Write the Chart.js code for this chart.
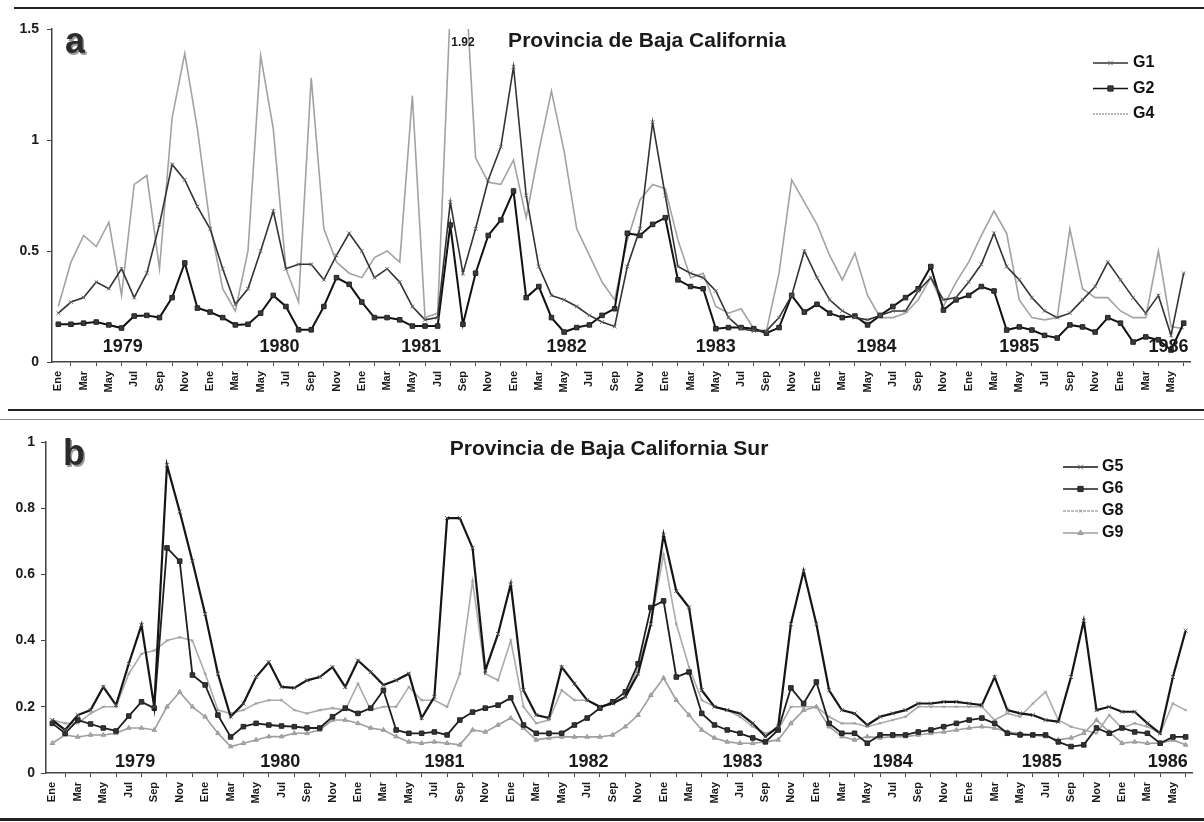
<!DOCTYPE html>
<html>
<head>
<meta charset="utf-8">
<title>Provincia de Baja California</title>
<script src="https://cdn.jsdelivr.net/npm/chart.js@4.4.1/dist/chart.umd.min.js"></script>
<style>
  body { margin: 0; background: #fff; }
  #page { position: relative; width: 1204px; height: 822px; overflow: hidden; background: #fff; }
  #page canvas { position: absolute; left: 0; }
  #chartA { top: 0; }
  #chartB { top: 420px; }
  .rule { position: absolute; right: 0; background: #222; }
</style>
</head>
<body>
<div id="page">
  <div class="rule" style="top:7px;left:14px;height:2px"></div>
  <div class="rule" style="top:409px;left:8px;height:2px"></div>
  <div class="rule" style="top:419px;left:0;height:1px;background:#888"></div>
  <div class="rule" style="top:818px;left:0;height:3px"></div>
  <canvas id="chartA" width="1204" height="408"></canvas>
  <canvas id="chartB" width="1204" height="398"></canvas>
</div>
<script>
// Month categories, Jan 1979 - Jun 1986
const monthNames = ['Ene', 'Feb', 'Mar', 'Abr', 'May', 'Jun', 'Jul', 'Ago', 'Sep', 'Oct', 'Nov', 'Dic'];
const yearLabels = ['1979', '1980', '1981', '1982', '1983', '1984', '1985', '1986'];
const months = [];
for (let y = 1979; y <= 1986; y++) {
  for (let m = 0; m < 12; m++) {
    if (y === 1986 && m > 5) break;
    months.push(monthNames[m] + ' ' + y);
  }
}

// Provincia de Baja California
const g1 = [
  0.22, 0.27, 0.29, 0.36, 0.33, 0.42, 0.29, 0.40, 0.62, 0.89,
  0.82, 0.70, 0.60, 0.42, 0.26, 0.33, 0.50, 0.68, 0.42, 0.44,
  0.44, 0.37, 0.48, 0.58, 0.50, 0.38, 0.42, 0.36, 0.25, 0.19,
  0.20, 0.72, 0.40, 0.60, 0.82, 0.97, 1.33, 0.75, 0.43, 0.30,
  0.28, 0.25, 0.21, 0.18, 0.16, 0.43, 0.60, 1.08, 0.75, 0.43,
  0.40, 0.38, 0.32, 0.20, 0.15, 0.14, 0.14, 0.20, 0.30, 0.50,
  0.38, 0.28, 0.23, 0.20, 0.19, 0.21, 0.23, 0.23, 0.32, 0.38,
  0.28, 0.29, 0.36, 0.44, 0.58, 0.43, 0.37, 0.29, 0.23, 0.20,
  0.22, 0.28, 0.34, 0.45, 0.37, 0.29, 0.22, 0.30, 0.12, 0.40
];
const g2 = [
  0.17, 0.17, 0.175, 0.18, 0.167, 0.153, 0.207, 0.21, 0.20, 0.29,
  0.446, 0.243, 0.225, 0.20, 0.167, 0.17, 0.22, 0.30, 0.25, 0.145,
  0.145, 0.25, 0.38, 0.35, 0.27, 0.20, 0.20, 0.19, 0.162, 0.162,
  0.162, 0.617, 0.17, 0.40, 0.57, 0.64, 0.77, 0.29, 0.34, 0.20,
  0.135, 0.155, 0.167, 0.21, 0.24, 0.58, 0.57, 0.62, 0.65, 0.37,
  0.34, 0.33, 0.15, 0.155, 0.155, 0.15, 0.13, 0.155, 0.30, 0.225,
  0.26, 0.22, 0.20, 0.207, 0.167, 0.21, 0.25, 0.29, 0.33, 0.43,
  0.234, 0.28, 0.30, 0.34, 0.32, 0.144, 0.158, 0.144, 0.12, 0.108,
  0.167, 0.158, 0.135, 0.20, 0.175, 0.09, 0.113, 0.10, 0.054, 0.175
];
const g4 = [
  0.25, 0.45, 0.57, 0.52, 0.63, 0.30, 0.80, 0.84, 0.42, 1.10,
  1.39, 1.05, 0.62, 0.33, 0.23, 0.50, 1.38, 1.05, 0.42, 0.27,
  1.28, 0.60, 0.45, 0.40, 0.38, 0.47, 0.50, 0.45, 1.20, 0.20,
  0.22, 1.60, 1.92, 0.92, 0.81, 0.80, 0.91, 0.65, 0.95, 1.22,
  0.95, 0.60, 0.48, 0.36, 0.28, 0.55, 0.73, 0.80, 0.78, 0.55,
  0.38, 0.40, 0.25, 0.22, 0.24, 0.15, 0.14, 0.40, 0.82, 0.72,
  0.62, 0.48, 0.37, 0.49, 0.30, 0.20, 0.20, 0.22, 0.28, 0.38,
  0.25, 0.36, 0.45, 0.57, 0.68, 0.58, 0.28, 0.20, 0.19, 0.20,
  0.60, 0.33, 0.29, 0.29, 0.23, 0.20, 0.20, 0.50, 0.16, 0.15
];

// Provincia de Baja California Sur
const g5 = [
  0.16, 0.13, 0.175, 0.19, 0.26, 0.205, 0.33, 0.447, 0.20, 0.93,
  0.79, 0.64, 0.48, 0.30, 0.17, 0.21, 0.29, 0.335, 0.26, 0.257,
  0.28, 0.29, 0.32, 0.26, 0.34, 0.305, 0.266, 0.28, 0.30, 0.166,
  0.23, 0.77, 0.77, 0.68, 0.31, 0.42, 0.57, 0.25, 0.175, 0.166,
  0.32, 0.27, 0.22, 0.20, 0.21, 0.23, 0.30, 0.45, 0.72, 0.55,
  0.50, 0.25, 0.20, 0.19, 0.18, 0.15, 0.11, 0.14, 0.45, 0.61,
  0.45, 0.25, 0.19, 0.18, 0.145, 0.17, 0.18, 0.19, 0.21, 0.21,
  0.215, 0.215, 0.21, 0.205, 0.29, 0.19, 0.18, 0.175, 0.16, 0.155,
  0.29, 0.46, 0.19, 0.20, 0.185, 0.185, 0.15, 0.12, 0.29, 0.43
];
const g6 = [
  0.15, 0.12, 0.16, 0.148, 0.136, 0.127, 0.172, 0.215, 0.196, 0.68,
  0.64, 0.296, 0.266, 0.175, 0.109, 0.14, 0.15, 0.145, 0.142, 0.14,
  0.136, 0.136, 0.17, 0.196, 0.18, 0.196, 0.25, 0.13, 0.12, 0.12,
  0.124, 0.115, 0.16, 0.184, 0.196, 0.205, 0.227, 0.145, 0.12, 0.12,
  0.12, 0.145, 0.166, 0.196, 0.215, 0.245, 0.33, 0.50, 0.52, 0.29,
  0.305, 0.18, 0.145, 0.13, 0.12, 0.106, 0.094, 0.13, 0.257, 0.21,
  0.275, 0.15, 0.12, 0.12, 0.09, 0.115, 0.115, 0.115, 0.124, 0.13,
  0.14, 0.15, 0.16, 0.166, 0.15, 0.12, 0.115, 0.115, 0.115, 0.094,
  0.08, 0.085, 0.136, 0.12, 0.136, 0.124, 0.12, 0.09, 0.109, 0.109
];
const g8 = [
  0.16, 0.15, 0.15, 0.18, 0.20, 0.20, 0.30, 0.36, 0.37, 0.40,
  0.41, 0.40, 0.30, 0.19, 0.18, 0.19, 0.21, 0.22, 0.22, 0.19,
  0.18, 0.19, 0.196, 0.19, 0.27, 0.19, 0.20, 0.20, 0.26, 0.22,
  0.22, 0.20, 0.30, 0.58, 0.30, 0.28, 0.40, 0.20, 0.15, 0.16,
  0.25, 0.22, 0.22, 0.20, 0.21, 0.23, 0.32, 0.45, 0.66, 0.45,
  0.32, 0.22, 0.20, 0.19, 0.17, 0.14, 0.12, 0.13, 0.20, 0.20,
  0.20, 0.17, 0.15, 0.15, 0.14, 0.15, 0.16, 0.17, 0.20, 0.20,
  0.20, 0.20, 0.20, 0.20, 0.16, 0.18, 0.17, 0.21, 0.245, 0.16,
  0.14, 0.13, 0.12, 0.175, 0.136, 0.15, 0.14, 0.12, 0.21, 0.19
];
const g9 = [
  0.09, 0.115, 0.109, 0.115, 0.115, 0.12, 0.136, 0.136, 0.13, 0.20,
  0.245, 0.20, 0.17, 0.12, 0.08, 0.09, 0.10, 0.11, 0.11, 0.12,
  0.12, 0.13, 0.16, 0.16, 0.15, 0.136, 0.13, 0.11, 0.094, 0.09,
  0.094, 0.09, 0.085, 0.13, 0.124, 0.145, 0.166, 0.136, 0.10, 0.106,
  0.109, 0.109, 0.109, 0.109, 0.115, 0.14, 0.175, 0.235, 0.287, 0.22,
  0.175, 0.13, 0.106, 0.094, 0.09, 0.09, 0.094, 0.10, 0.15, 0.19,
  0.20, 0.14, 0.11, 0.10, 0.11, 0.106, 0.11, 0.11, 0.115, 0.12,
  0.124, 0.13, 0.136, 0.14, 0.136, 0.124, 0.12, 0.115, 0.11, 0.10,
  0.106, 0.12, 0.16, 0.124, 0.09, 0.094, 0.09, 0.09, 0.10, 0.085
];

const FONT = "'Liberation Sans', Arial, sans-serif";
Chart.defaults.font.family = FONT;

// Draws panel letter, title, year captions, legend and the clipped peak value
const panelText = {
  id: 'panelText',
  afterDraw(chart, args, opts) {
    const ctx = chart.ctx;
    const xs = chart.scales.x;
    const ys = chart.scales.y;
    ctx.save();

    ctx.textAlign = 'left';
    ctx.textBaseline = 'alphabetic';
    ctx.font = 'bold 36px ' + FONT;
    ctx.fillStyle = '#9a9a9a';
    ctx.fillText(opts.letter, opts.letterPos[0] + 1.5, opts.letterPos[1] + 1.5);
    ctx.fillStyle = '#2b2b2b';
    ctx.fillText(opts.letter, opts.letterPos[0], opts.letterPos[1]);

    ctx.textAlign = 'center';
    ctx.font = 'bold 21px ' + FONT;
    ctx.fillStyle = '#1a1a1a';
    ctx.fillText(opts.title, opts.titlePos[0], opts.titlePos[1]);

    ctx.textBaseline = 'middle';
    ctx.font = 'bold 18px ' + FONT;
    yearLabels.forEach((yr, k) => {
      ctx.fillText(yr, xs.getPixelForValue(opts.yearAt[k]), ys.getPixelForValue(opts.yearValue));
    });

    if (opts.peakOf !== undefined) {
      const data = chart.data.datasets[opts.peakOf].data;
      const top = Math.max(...data);
      ctx.font = 'bold 12px ' + FONT;
      ctx.textBaseline = 'alphabetic';
      ctx.fillText(top.toFixed(2), xs.getPixelForValue(data.indexOf(top)), opts.peakY);
    }

    const lg = opts.legend;
    chart.data.datasets.forEach((ds, k) => {
      const y = lg.y + k * lg.dy;
      ctx.setLineDash(ds.legendDash || []);
      ctx.strokeStyle = ds.borderColor;
      ctx.lineWidth = Math.min(ds.borderWidth, 1.6);
      ctx.beginPath();
      ctx.moveTo(lg.x1, y);
      ctx.lineTo(lg.x2, y);
      ctx.stroke();
      ctx.setLineDash([]);
      if (ds.pointRadius > 0) {
        ctx.fillStyle = ds.pointBackgroundColor || ds.borderColor;
        ctx.strokeStyle = ds.pointBorderColor || ds.borderColor;
        ctx.lineWidth = ds.pointBorderWidth || 1;
        Chart.helpers.drawPoint(ctx, {
          pointStyle: ds.pointStyle, radius: ds.pointRadius + 0.5,
          borderWidth: ds.pointBorderWidth || 1, rotation: 0
        }, (lg.x1 + lg.x2) / 2, y);
      }
      ctx.font = 'bold 16px ' + FONT;
      ctx.fillStyle = '#111';
      ctx.textAlign = 'left';
      ctx.textBaseline = 'middle';
      ctx.fillText(ds.label, lg.textX, y);
    });

    ctx.restore();
  }
};

function buildChart(id, datasets, yMax, yStep, box, text) {
  return new Chart(document.getElementById(id), {
    type: 'line',
    data: { labels: months, datasets: datasets },
    options: {
      responsive: false,
      animation: false,
      devicePixelRatio: 1,
      layout: { padding: { top: box.top, right: box.right, left: 0, bottom: 0 } },
      elements: { line: { tension: 0, fill: false } },
      scales: {
        x: {
          offset: true,
          grid: { offset: true, drawOnChartArea: false, tickLength: 4, color: '#444' },
          border: { color: '#444', width: 1.5 },
          ticks: {
            autoSkip: false, minRotation: 90, maxRotation: 90, padding: 5,
            color: '#1a1a1a', font: { size: 11, weight: 'bold' },
            callback: function (v, i) {
              return i % 2 === 0 ? this.getLabelForValue(v).split(' ')[0] : null;
            }
          },
          afterFit: s => { s.height = box.xHeight; }
        },
        y: {
          min: 0,
          max: yMax,
          ticks: {
            stepSize: yStep, padding: box.yPad, color: '#1a1a1a',
            font: { size: 14, weight: 'bold' },
            callback: v => String(Math.round(v * 100) / 100)
          },
          grid: { drawOnChartArea: false, tickLength: 5, color: '#444' },
          border: { color: '#444', width: 1.5 },
          afterFit: s => { s.width = box.yWidth; }
        }
      },
      plugins: {
        legend: { display: false },
        tooltip: { enabled: false },
        panelText: text
      }
    },
    plugins: [panelText]
  });
}

// Panel a
buildChart('chartA', [
  { label: 'G1', data: g1, borderColor: '#333', borderWidth: 1.6,
    pointStyle: 'crossRot', pointRadius: 2.6, pointBorderColor: '#666', pointBorderWidth: 1 },
  { label: 'G2', data: g2, borderColor: '#111', borderWidth: 2,
    pointStyle: 'rect', pointRadius: 3.2, pointBackgroundColor: '#3a3a3a', pointBorderColor: '#222', pointBorderWidth: 1 },
  { label: 'G4', data: g4, borderColor: '#a2a2a2', borderWidth: 1.6, pointRadius: 0, legendDash: [2, 1] }
], 1.5, 0.5,
  { top: 29, right: 14, xHeight: 46, yWidth: 52, yPad: 8 },
  {
    letter: 'a', letterPos: [65, 53],
    title: 'Provincia de Baja California', titlePos: [647, 47],
    yearAt: [5.1, 17.5, 28.7, 40.2, 52, 64.7, 76, 87.8], yearValue: 0.068,
    peakOf: 2, peakY: 46,
    legend: { x1: 1093, x2: 1128, textX: 1133, y: 63, dy: 25.5 }
  });

// Panel b
buildChart('chartB', [
  { label: 'G5', data: g5, borderColor: '#151515', borderWidth: 2.2,
    pointStyle: 'crossRot', pointRadius: 2.8, pointBorderColor: '#555', pointBorderWidth: 1 },
  { label: 'G6', data: g6, borderColor: '#1e1e1e', borderWidth: 1.8,
    pointStyle: 'rect', pointRadius: 3.2, pointBackgroundColor: '#333', pointBorderColor: '#222', pointBorderWidth: 1 },
  { label: 'G8', data: g8, borderColor: '#ababab', borderWidth: 1.6,
    pointStyle: 'crossRot', pointRadius: 1.8, pointBorderColor: '#999', pointBorderWidth: 1, legendDash: [3, 1] },
  { label: 'G9', data: g9, borderColor: '#9e9e9e', borderWidth: 1.6,
    pointStyle: 'triangle', pointRadius: 2.6, pointBackgroundColor: '#aaa', pointBorderColor: '#999', pointBorderWidth: 1 }
], 1, 0.2,
  { top: 22, right: 12, xHeight: 45, yWidth: 46, yPad: 6 },
  {
    letter: 'b', letterPos: [63, 45],
    title: 'Provincia de Baja California Sur', titlePos: [609, 35],
    yearAt: [6.5, 17.9, 30.8, 42.1, 54.2, 66, 77.7, 87.6], yearValue: 0.033,
    legend: { x1: 1063, x2: 1098, textX: 1102, y: 47, dy: 22 }
  });
</script>
</body>
</html>
